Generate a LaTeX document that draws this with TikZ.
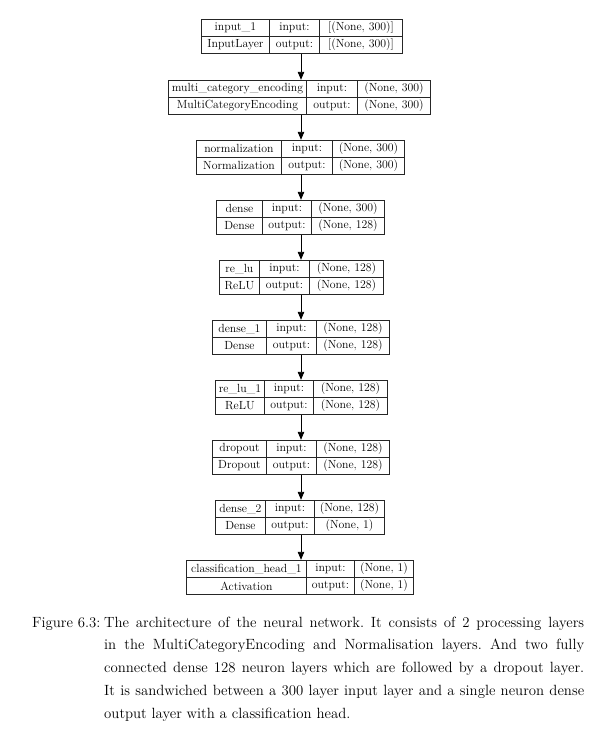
\documentclass[tikz,border=0pt]{standalone}
\usetikzlibrary{arrows.meta,fit}
\begin{document}
\begin{tikzpicture}[x=1pt,y=-1pt,
  cell/.style={draw=black!85, line width=0.9pt, rectangle, inner sep=0pt,
    minimum height=17pt, anchor=north west, font=\fontsize{11.8}{14}\selectfont},
  arr/.style={draw=black, line width=0.9pt, -{Triangle[length=8pt,width=6.5pt]}}]
\useasboundingbox (0,0) rectangle (592,732);
\coordinate (ax) at (301,0);
\foreach \id/\top/\L/\da/\db/\R/\nm/\ty/\vin/\vout in {
  L1/19/201/269/319/402/{input\_1}/{InputLayer}/{[(None, 300)]}/{[(None, 300)]},
  L2/80/168/306/357/430/{multi\_category\_encoding}/{MultiCategoryEncoding}/{(None, 300)}/{(None, 300)},
  L3/140/196/281/332/404/{normalization}/{Normalization}/{(None, 300)}/{(None, 300)},
  L4/200/216/262/311/384/{dense}/{Dense}/{(None, 300)}/{(None, 128)},
  L5/260/219/259/309/383/{re\_lu}/{ReLU}/{(None, 128)}/{(None, 128)},
  L6/320/212/266/316/389/{dense\_1}/{Dense}/{(None, 128)}/{(None, 128)},
  L7/380/215/264/313/387/{re\_lu\_1}/{ReLU}/{(None, 128)}/{(None, 128)},
  L8/440/212/266/316/389/{dropout}/{Dropout}/{(None, 128)}/{(None, 128)},
  L9/500/215/265/314/384/{dense\_2}/{Dense}/{(None, 128)}/{(None, 1)},
  L10/560/186/306/354/413/{classification\_head\_1}/{Activation}/{(None, 1)}/{(None, 1)}}
{
  \pgfmathsetmacro\wa{\da-\L}
  \pgfmathsetmacro\wb{\db-\da}
  \pgfmathsetmacro\wc{\R-\db}
  \pgfmathsetmacro\mid{\top+17}
  \node[cell, minimum width=\wa pt] (\id n) at (\L,\top) {\nm};
  \node[cell, minimum width=\wa pt] (\id t) at (\L,\mid) {\ty};
  \node[cell, minimum width=\wb pt] (\id i) at (\da,\top) {input:};
  \node[cell, minimum width=\wb pt] (\id o) at (\da,\mid) {output:};
  \node[cell, minimum width=\wc pt] (\id is) at (\db,\top) {\vin};
  \node[cell, minimum width=\wc pt] (\id os) at (\db,\mid) {\vout};
  \node[fit=(\id n)(\id os), inner sep=0pt] (\id) {};
}
\foreach \a/\b in {L1/L2,L2/L3,L3/L4,L4/L5,L5/L6,L6/L7,L7/L8,L8/L9,L9/L10}
  \draw[arr] (\a.south -| ax) -- (\b.north -| ax);
\node[anchor=base west, inner sep=0pt] (figlab) at (32,627)
  {\fontsize{14.8}{22.75}\selectfont Figure 6.3:};
\node[anchor=base west, inner sep=0pt] (cap) at (104,627)
  {\parbox[t]{480pt}{\fontsize{14.8}{22.75}\selectfont\hyphenpenalty=10000\frenchspacing
  The architecture of the neural network. It consists of 2 processing layers\linebreak
  in the MultiCategoryEncoding and Normalisation layers. And two fully\linebreak
  connected dense 128 neuron layers which are followed by a dropout layer.\linebreak
  It is sandwiched between a 300 layer input layer and a single neuron dense\linebreak
  output layer with a classification head.}};
\end{tikzpicture}
\end{document}
